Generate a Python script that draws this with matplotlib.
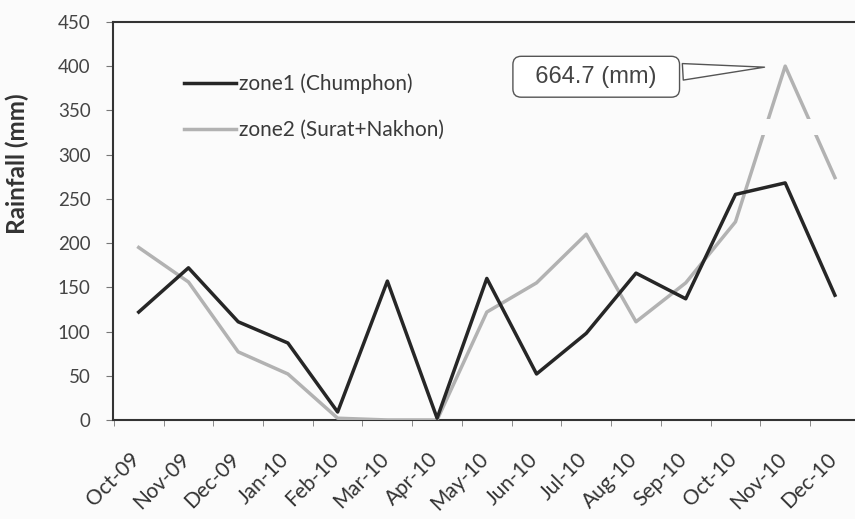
import numpy as np
import matplotlib.pyplot as plt
import matplotlib.transforms as mtransforms

months = ['Oct-09', 'Nov-09', 'Dec-09', 'Jan-10', 'Feb-10', 'Mar-10', 'Apr-10',
          'May-10', 'Jun-10', 'Jul-10', 'Aug-10', 'Sep-10', 'Oct-10', 'Nov-10', 'Dec-10']
zone1 = [122, 172, 111, 87, 9, 157, 2, 160, 52, 98, 166, 137, 255, 268, 141]
zone2 = [195, 156, 77, 52, 2, 0, 0, 122, 155, 210, 111, 155, 224, 664.7, 274]
y_ticks = [0, 50, 100, 150, 200, 250, 300, 350, 400, 450]

# axis is capped: values above this are drawn at the cap with a break
y_cap = 400
break_lo, break_hi = 322, 340

bg = '#fbfbfb'
plt.rcParams['font.family'] = ['Lato', 'DejaVu Sans']

fig = plt.figure(figsize=(8.55, 5.19), dpi=100)
fig.patch.set_facecolor(bg)
ax = fig.add_axes([0.132, 0.1908, 0.88, 0.767])
ax.set_facecolor(bg)

x = np.arange(len(months))
zone2_plot = np.minimum(zone2, y_cap)

ax.plot(x, zone1, color='#262626', lw=2.5, label='zone1 (Chumphon)', zorder=4)
ax.plot(x, zone2_plot, color='#b2b2b2', lw=2.5, label='zone2 (Surat+Nakhon)', zorder=3)

# break marks on the grey line around the capped peak
peak = int(np.argmax(zone2))
ax.fill_between([peak - 0.75, peak + 0.9], break_lo, break_hi,
                color=bg, lw=0, zorder=3.5)

ax.annotate(f'  {zone2[peak]} (mm)  ', xy=(peak - 0.36, 399), xytext=(9.2, 388),
            ha='center', va='center', fontsize=17, color='#444444',
            family='Liberation Sans',
            bbox=dict(boxstyle='round,pad=0.4,rounding_size=0.35',
                      fc='white', ec='#555555', lw=1),
            arrowprops=dict(arrowstyle='wedge,tail_width=0.7,shrink_factor=0.5',
                            fc='white', ec='#555555', lw=1),
            zorder=6)

ax.set_xlim(-0.52, 14.61)
ax.set_ylim(0, 450)
ax.set_yticks(y_ticks)
ax.set_xticks(x)
ax.set_xticks(np.arange(-0.5, len(months), 1), minor=True)
ax.set_xticklabels(months, rotation=45, ha='right', rotation_mode='anchor')
ax.tick_params(axis='x', which='major', length=0, pad=21, labelsize=15,
               labelcolor='#333333')
ax.tick_params(axis='x', which='minor', length=4, color='#777777', direction='out')
ax.tick_params(axis='y', length=5, color='#777777', labelsize=13.5,
               labelcolor='#444444', pad=11)

# nudge the slanted month labels so they hang just left of their ticks
shift = mtransforms.ScaledTranslation(-9 / 100, 0, fig.dpi_scale_trans)
for lbl in ax.get_xticklabels():
    lbl.set_transform(lbl.get_transform() + shift)

for side in ['left', 'top', 'bottom', 'right']:
    ax.spines[side].set_color('#333333')
    ax.spines[side].set_linewidth(1.5)

ax.set_ylabel('Rainfall (mm)', fontsize=17.5, fontweight='bold', color='#333333')
ax.yaxis.set_label_coords(-0.112, 0.645)

ax.legend(loc='upper left', bbox_to_anchor=(0.07, 0.917), frameon=False,
          fontsize=15, handlelength=2.5, handletextpad=0.15, labelspacing=1.25,
          labelcolor='#3a3a3a')

fig.savefig('out.png', dpi=100, facecolor=fig.get_facecolor())
